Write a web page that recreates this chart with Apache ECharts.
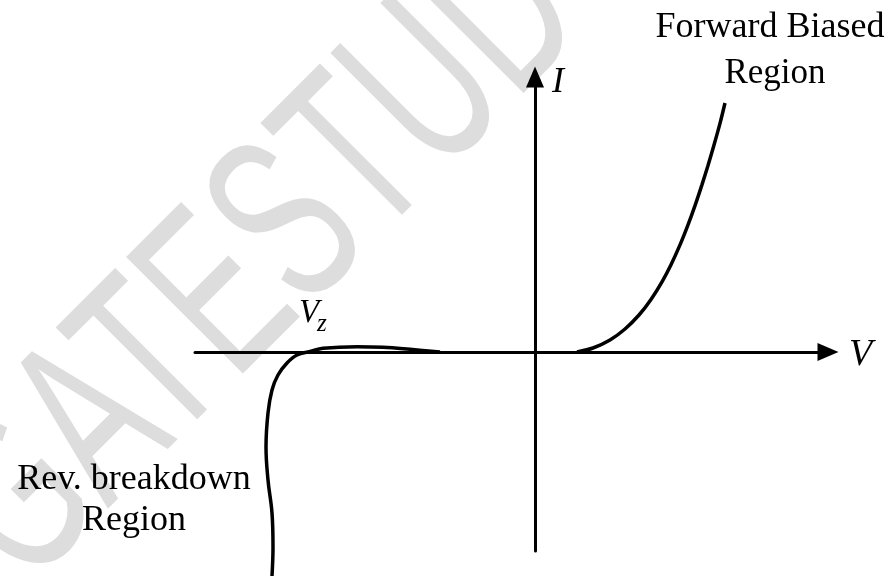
<!DOCTYPE html>
<html>
<head>
<meta charset="utf-8">
<title>Zener diode V-I characteristic</title>
<script src="https://cdn.jsdelivr.net/npm/echarts@6/dist/echarts.min.js"></script>
<style>
  html, body { margin: 0; padding: 0; background: #fff; }
  #chart { width: 893px; height: 576px; }
</style>
</head>
<body>
<div id="chart"></div>
<script>
// axis ranges (1 unit = 10px on screen, origin where the axes cross)
const vRange = [-34, 29.3]
const iRange = [-19.9, 27.5]

// forward biased branch
const forwardV = [4.2, 5.8, 7.5, 9.0, 10.4, 11.6, 12.7, 13.6, 14.5, 15.3, 16.0, 16.7, 17.3, 17.9, 18.5, 19.0]
const forwardI = [0, 0.4, 1.2, 2.3, 3.7, 5.26, 7.02, 8.73, 10.71, 12.71, 14.64, 16.74, 18.66, 20.7, 22.86, 24.9]

// reverse branch, knee at Vz then breakdown
const reverseV = [-9.5, -12.5, -15.2, -17.8, -21.2, -22.5, -23.8, -24.8, -25.7, -26.3, -26.7, -26.9, -26.7, -26.3, -26.2, -26.3]
const reverseI = [0, 0.27, 0.47, 0.53, 0.37, 0.05, -0.3, -1.1, -2.3, -3.8, -6.1, -9.5, -12.8, -16.1, -19.5, -22.4]

const watermark = 'GATESTUDY'

const toPairs = (xs, ys) => xs.map((x, i) => [x, ys[i]])

const chart = echarts.init(document.getElementById('chart'), null, { renderer: 'canvas' })

const axisLine = {
  onZero: true,
  symbol: ['none', 'triangle'],
  symbolSize: [18, 21],
  lineStyle: { color: '#000', width: 3 }
}

const serif = '"Liberation Serif", "Times New Roman", serif'

const label = (x, y, text, font) => ({
  type: 'text',
  x: x,
  y: y,
  style: { text: text, font: font, fill: '#000', align: 'center', verticalAlign: 'bottom' }
})

const option = {
  animation: false,
  backgroundColor: '#fff',
  grid: { left: 195, right: 65, top: 77, bottom: 25 },
  xAxis: {
    type: 'value',
    min: vRange[0],
    max: vRange[1],
    axisLine: axisLine,
    axisTick: { show: false },
    axisLabel: { show: false },
    splitLine: { show: false }
  },
  yAxis: {
    type: 'value',
    min: iRange[0],
    max: iRange[1],
    axisLine: axisLine,
    axisTick: { show: false },
    axisLabel: { show: false },
    splitLine: { show: false }
  },
  graphic: [
    { // watermark
      type: 'text',
      x: -21,
      y: 544,
      rotation: Math.PI / 4,
      scaleX: 0.62,
      z: -10,
      silent: true,
      style: {
        text: watermark,
        font: '240px "Liberation Sans", Arial, sans-serif',
        fill: '#dddddd',
        align: 'left',
        verticalAlign: 'middle'
      }
    },
    label(770, 46, 'Forward Biased', '36px ' + serif),
    label(775, 91, 'Region', '35px ' + serif),
    label(134, 498, 'Rev. breakdown', '36px ' + serif),
    label(134, 539, 'Region', '36px ' + serif),
    {
      type: 'text', x: 552, y: 101,
      style: { text: 'I', font: 'italic 36px ' + serif, fill: '#000', align: 'left', verticalAlign: 'bottom' }
    },
    {
      type: 'text', x: 849, y: 374,
      style: { text: 'V', font: 'italic 38px ' + serif, fill: '#000', align: 'left', verticalAlign: 'bottom' }
    },
    {
      type: 'text', x: 299, y: 330,
      style: { text: 'V', font: 'italic 33px ' + serif, fill: '#000', align: 'left', verticalAlign: 'bottom' }
    },
    {
      type: 'text', x: 317, y: 337,
      style: { text: 'z', font: 'italic 25px ' + serif, fill: '#000', align: 'left', verticalAlign: 'bottom' }
    }
  ],
  series: [
    {
      name: 'forward',
      type: 'line',
      data: toPairs(forwardV, forwardI),
      smooth: 0.3,
      symbol: 'none',
      clip: false,
      lineStyle: { color: '#000', width: 3.5 }
    },
    {
      name: 'reverse',
      type: 'line',
      data: toPairs(reverseV, reverseI),
      smooth: 0.4,
      symbol: 'none',
      clip: false,
      lineStyle: { color: '#000', width: 3.5 }
    }
  ]
}

chart.setOption(option)
</script>
</body>
</html>
